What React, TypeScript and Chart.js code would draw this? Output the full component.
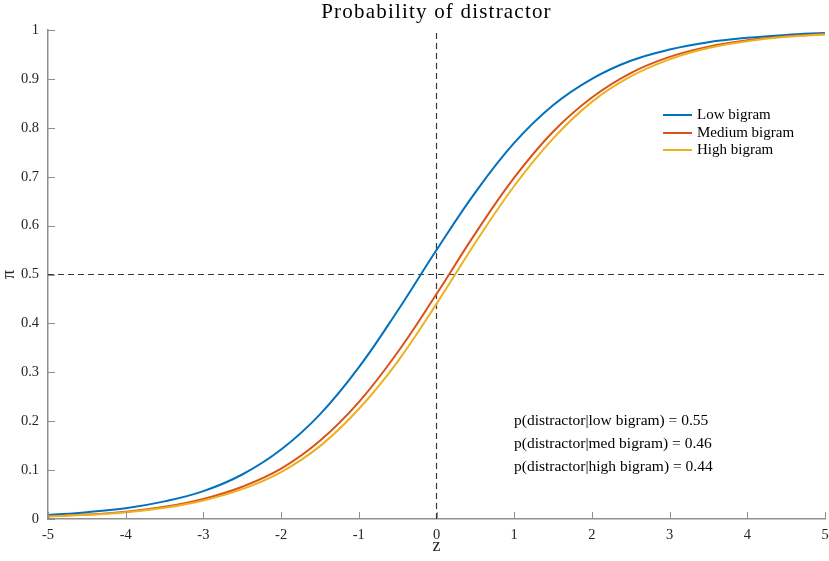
import { useEffect, useRef } from "react";
import { Chart, registerables } from "chart.js";

Chart.register(...registerables);

const zValues = [-5, -4.5, -4, -3.5, -3, -2.5, -2, -1.5, -1, -0.5, 0, 0.5, 1, 1.5, 2, 2.5, 3, 3.5, 4, 4.5, 5];
const lowBigram = [0.008, 0.014, 0.022, 0.036, 0.057, 0.091, 0.142, 0.214, 0.31, 0.426, 0.55, 0.668, 0.769, 0.846, 0.9, 0.937, 0.96, 0.975, 0.984, 0.99, 0.994];
const mediumBigram = [0.0055, 0.009, 0.015, 0.025, 0.041, 0.066, 0.103, 0.16, 0.239, 0.341, 0.46, 0.584, 0.698, 0.792, 0.862, 0.912, 0.945, 0.966, 0.979, 0.987, 0.992];
const highBigram = [0.005, 0.0085, 0.014, 0.023, 0.038, 0.061, 0.096, 0.149, 0.225, 0.322, 0.44, 0.565, 0.681, 0.778, 0.853, 0.905, 0.94, 0.963, 0.977, 0.986, 0.991];

const seriesNames = ["Low bigram", "Medium bigram", "High bigram"];
const seriesColors = ["#0072BD", "#D95319", "#EDB120"];
const xTicks = [-5, -4, -3, -2, -1, 0, 1, 2, 3, 4, 5];
const yTicks = [0, 0.1, 0.2, 0.3, 0.4, 0.5, 0.6, 0.7, 0.8, 0.9, 1];
const annotations = [
  "p(distractor|low bigram) = 0.55",
  "p(distractor|med bigram) = 0.46",
  "p(distractor|high bigram) = 0.44",
];
const titleText = "Probability of distractor";
const xLabel = "z";
const yLabel = "π";

const FONT = "'Liberation Serif', 'Times New Roman', serif";
const AXIS = "#8f8f8f";
const TEXT = "#262626";

const decor = {
  id: "decor",
  afterDraw(chart: any) {
    const { ctx, chartArea, scales } = chart;
    ctx.save();
    // inward ticks
    ctx.strokeStyle = AXIS;
    ctx.lineWidth = 1;
    xTicks.forEach((v) => {
      const px = Math.round(scales.x.getPixelForValue(v)) + 0.5;
      ctx.beginPath();
      ctx.moveTo(px, chartArea.bottom);
      ctx.lineTo(px, chartArea.bottom - 7);
      ctx.stroke();
    });
    yTicks.forEach((v) => {
      const py = Math.round(scales.y.getPixelForValue(v)) + 0.5;
      ctx.beginPath();
      ctx.moveTo(chartArea.left, py);
      ctx.lineTo(chartArea.left + 7, py);
      ctx.stroke();
    });

    ctx.fillStyle = "#000";
    // title
    ctx.save();
    ctx.font = `21px ${FONT}`;
    (ctx as any).letterSpacing = "1.2px";
    ctx.textAlign = "center";
    ctx.textBaseline = "alphabetic";
    ctx.fillText(titleText, (chartArea.left + chartArea.right) / 2, 18);
    ctx.restore();

    // x label
    ctx.textAlign = "center";
    ctx.textBaseline = "middle";
    ctx.font = `18px ${FONT}`;
    ctx.fillStyle = TEXT;
    ctx.fillText(xLabel, scales.x.getPixelForValue(0), 546);

    // y label (rotated)
    ctx.save();
    ctx.translate(9, scales.y.getPixelForValue(0.5));
    ctx.rotate(-Math.PI / 2);
    ctx.font = `18px ${FONT}`;
    ctx.fillText(yLabel, 0, 0);
    ctx.restore();

    // legend
    ctx.textAlign = "left";
    ctx.font = `15px ${FONT}`;
    const legendY = [115, 133, 150];
    seriesNames.forEach((name, i) => {
      ctx.strokeStyle = seriesColors[i];
      ctx.lineWidth = 2;
      ctx.beginPath();
      ctx.moveTo(663, legendY[i]);
      ctx.lineTo(692, legendY[i]);
      ctx.stroke();
      ctx.fillStyle = "#000";
      ctx.fillText(name, 697, legendY[i]);
    });

    // annotations
    ctx.font = `15.5px ${FONT}`;
    const annY = [421, 444, 467];
    annotations.forEach((t, i) => {
      ctx.fillText(t, 514, annY[i]);
    });
    ctx.restore();
  },
};

export default function App() {
  const ref = useRef<HTMLCanvasElement | null>(null);
  useEffect(() => {
    document.body.style.margin = "0";
    const canvas = ref.current!;
    const toPts = (arr: number[]) => arr.map((y, i) => ({ x: zValues[i], y }));
    const curves = [lowBigram, mediumBigram, highBigram].map((arr, i) => ({
      label: seriesNames[i],
      data: toPts(arr),
      borderColor: seriesColors[i],
      backgroundColor: seriesColors[i],
      borderWidth: 2,
      pointRadius: 0,
      tension: 0.4,
      fill: false,
      order: 3 - i,
    }));
    const dashed = [
      { data: [{ x: 0, y: 0 }, { x: 0, y: 1 }] },
      { data: [{ x: -5, y: 0.5 }, { x: 5, y: 0.5 }] },
    ].map((d, i) => ({
      label: "ref" + i,
      data: d.data,
      borderColor: "#3a3a3a",
      borderWidth: 1.2,
      borderDash: [6, 4],
      pointRadius: 0,
      tension: 0,
      fill: false,
      order: 5,
    }));
    const chart = new Chart(canvas, {
      type: "line",
      data: { datasets: [...curves, ...dashed] as any },
      options: {
        responsive: false,
        animation: false,
        parsing: false as any,
        layout: { padding: { top: 30, right: 4, left: 0, bottom: 0 } },
        plugins: {
          legend: { display: false },
          title: { display: false },
          tooltip: { enabled: false },
        },
        scales: {
          x: {
            type: "linear",
            min: -5,
            max: 5,
            afterFit: (s: any) => {
              s.height = 42;
              s.paddingLeft = 0;
              s.paddingRight = 0;
            },
            afterBuildTicks: (s: any) => {
              s.ticks = xTicks.map((v) => ({ value: v }));
            },
            grid: { display: false, drawTicks: false },
            border: { display: true, color: AXIS, width: 1.5 },
            ticks: {
              color: TEXT,
              font: { family: FONT, size: 14.5 },
              padding: 7,
              maxRotation: 0,
              autoSkip: false,
              callback: (v: any) => String(v),
            },
          },
          y: {
            type: "linear",
            min: 0,
            max: 1,
            afterFit: (s: any) => {
              s.width = 48;
              s.paddingTop = 0;
              s.paddingBottom = 0;
            },
            afterBuildTicks: (s: any) => {
              s.ticks = yTicks.map((v) => ({ value: v }));
            },
            grid: { display: false, drawTicks: false },
            border: { display: true, color: AXIS, width: 1.5 },
            ticks: {
              color: TEXT,
              font: { family: FONT, size: 14.5 },
              padding: 9,
              autoSkip: false,
              callback: (v: any) => String(v),
            },
          },
        },
      },
      plugins: [decor],
    });
    return () => chart.destroy();
  }, []);
  return <canvas ref={ref} width={829} height={561} style={{ display: "block" }} />;
}
